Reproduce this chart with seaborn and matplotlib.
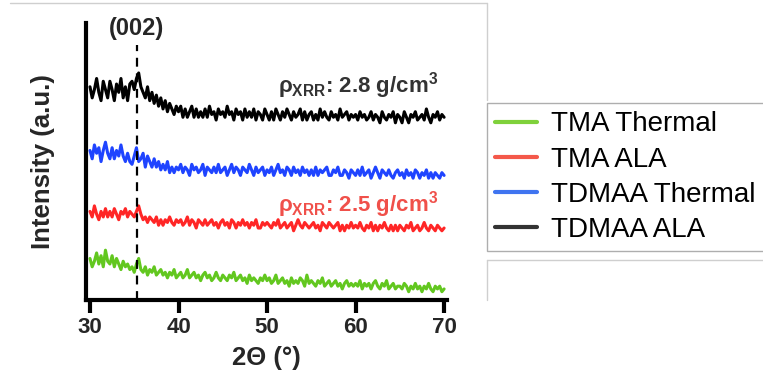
import numpy as np
import pandas as pd
import matplotlib
matplotlib.use("Agg")
import matplotlib.pyplot as plt
from matplotlib.lines import Line2D
import seaborn as sns

# 2-theta grid, 0.25 degree steps from 30 to 70
two_theta = np.arange(30.0, 70.001, 0.25)

# Offset intensities (a.u.) for each film, one row per 5 degrees
tdmaa_ala = [
    77, 73, 76, 80, 75, 72, 79, 76, 73, 79, 76, 72, 78, 75, 80, 73, 77, 72, 78, 79,
    76, 80, 82, 77, 75, 73, 77, 72, 75, 71, 74, 70, 73, 69, 72, 68, 71, 69, 67, 70,
    68, 70, 66, 69, 66, 68, 70, 66, 69, 66, 68, 66, 69, 66, 70, 67, 68, 65, 69, 67,
    68, 66, 70, 67, 68, 65, 69, 67, 68, 65, 69, 66, 68, 66, 69, 65, 68, 67, 65, 69,
    67, 65, 68, 65, 69, 67, 65, 68, 66, 69, 67, 65, 68, 66, 67, 69, 65, 68, 65, 67,
    68, 65, 67, 65, 69, 66, 68, 66, 65, 68, 66, 67, 65, 69, 66, 67, 68, 65, 67, 66,
    67, 65, 68, 66, 67, 65, 66, 68, 65, 67, 66, 64, 68, 66, 65, 67, 66, 68, 64, 67,
    66, 64, 68, 66, 64, 67, 66, 68, 65, 66, 67, 65, 69, 66, 64, 67, 66, 68, 65, 67,
    66,
]
tdmaa_thermal = [
    54, 51, 56, 53, 55, 50, 54, 57, 53, 51, 55, 51, 54, 52, 56, 52, 50, 53, 50, 49,
    52, 55, 50, 51, 53, 48, 52, 50, 48, 51, 48, 50, 47, 49, 47, 50, 46, 48, 46, 48,
    47, 49, 46, 48, 47, 45, 49, 47, 48, 46, 47, 49, 45, 48, 47, 46, 48, 46, 49, 46,
    47, 48, 45, 47, 49, 46, 48, 47, 45, 48, 47, 46, 49, 47, 45, 48, 46, 47, 48, 45,
    47, 46, 48, 45, 47, 49, 46, 47, 45, 48, 47, 45, 48, 46, 47, 45, 48, 46, 47, 45,
    47, 45, 48, 45, 47, 46, 47, 48, 45, 45, 47, 46, 48, 45, 45, 47, 46, 44, 47, 46,
    45, 47, 45, 48, 45, 46, 47, 44, 46, 48, 46, 44, 47, 46, 45, 47, 45, 44, 46, 47,
    45, 46, 44, 47, 45, 46, 44, 47, 46, 44, 46, 45, 47, 44, 46, 44, 46, 45, 44, 46,
    45,
]
tma_ala = [
    32, 30, 34, 31, 29, 32, 30, 33, 30, 32, 30, 33, 31, 29, 32, 31, 33, 30, 32, 31,
    30, 32, 34, 31, 29, 30, 28, 30, 29, 28, 30, 27, 29, 27, 29, 28, 30, 28, 27, 29,
    28, 29, 27, 28, 30, 27, 29, 28, 26, 29, 28, 27, 29, 27, 28, 29, 27, 28, 26, 28,
    29, 27, 28, 26, 29, 28, 26, 28, 27, 29, 27, 28, 26, 28, 27, 29, 26, 26, 28, 27,
    28, 27, 26, 28, 27, 29, 26, 27, 28, 26, 27, 28, 25, 27, 29, 27, 26, 28, 27, 26,
    27, 28, 26, 27, 25, 28, 27, 26, 28, 27, 26, 27, 28, 25, 27, 25, 27, 26, 28, 26,
    27, 26, 28, 26, 25, 27, 26, 28, 25, 27, 25, 27, 26, 28, 26, 25, 27, 25, 27, 25,
    27, 26, 25, 27, 26, 28, 25, 26, 27, 25, 26, 28, 26, 25, 27, 26, 25, 27, 26, 25,
    26,
]
tma_thermal = [
    15, 12, 14, 17, 13, 16, 12, 18, 14, 13, 16, 12, 15, 13, 11, 14, 12, 13, 11, 12,
    10, 13, 15, 11, 10, 12, 9, 11, 10, 12, 9, 10, 11, 9, 10, 8, 10, 9, 11, 8,
    9, 10, 8, 9, 11, 8, 9, 10, 8, 9, 7, 9, 10, 8, 9, 7, 8, 10, 8, 7,
    9, 8, 7, 9, 8, 10, 7, 8, 9, 7, 8, 6, 9, 7, 8, 7, 6, 8, 7, 9,
    7, 8, 6, 7, 9, 6, 7, 8, 6, 7, 5, 8, 6, 7, 6, 8, 7, 5, 9, 6,
    7, 6, 5, 7, 6, 8, 5, 6, 7, 5, 6, 7, 5, 6, 4, 6, 7, 5, 6, 5,
    6, 5, 7, 4, 6, 5, 6, 4, 6, 7, 5, 4, 6, 5, 7, 4, 5, 6, 4, 5,
    5, 4, 6, 5, 3, 5, 4, 6, 4, 5, 3, 5, 4, 6, 4, 3, 5, 4, 5, 3,
    4,
]

series_names = ["TMA Thermal", "TMA ALA", "TDMAA Thermal", "TDMAA ALA"]
series_values = [tma_thermal, tma_ala, tdmaa_thermal, tdmaa_ala]
series_colors = ["#62c71f", "#ff2626", "#1f44ff", "#000000"]
legend_colors = ["#7fd13b", "#f4584a", "#3f74f0", "#333333"]

peak_position = 35.3
peak_label = "(002)"
density_labels = [r"$\rho_{\mathrm{XRR}}$: 2.8 g/cm$^3$", r"$\rho_{\mathrm{XRR}}$: 2.5 g/cm$^3$"]
xticks = [30, 40, 50, 60, 70]

frames = []
for name, vals in zip(series_names, series_values):
    frames.append(pd.DataFrame({"two_theta": two_theta, "intensity": vals, "film": name}))
df = pd.concat(frames, ignore_index=True)

sns.set_theme(style="ticks")
plt.rcParams["font.family"] = ["Liberation Sans", "DejaVu Sans"]
plt.rcParams["mathtext.fontset"] = "custom"
plt.rcParams["mathtext.rm"] = "Liberation Sans:bold"
plt.rcParams["mathtext.it"] = "Liberation Sans:bold"

fig = plt.figure(figsize=(7.63, 3.79), dpi=100)
ax = fig.add_axes([0.1127, 0.2084, 0.4733, 0.7306])

sns.lineplot(data=df, x="two_theta", y="intensity", hue="film",
             hue_order=series_names, palette=series_colors,
             linewidth=2.2, legend=False, ax=ax, zorder=2)

ax.axvline(peak_position, ymin=0, ymax=0.92, color="black", lw=1.6,
           dashes=(4, 3), zorder=3)
ax.text(peak_position, 98.2, peak_label, ha="center", va="center",
        fontsize=17, fontweight="bold", clip_on=False)

ax.text(69.3, 77.5, density_labels[0], ha="right", va="center",
        fontsize=16, color="#333333", fontweight="bold")
ax.text(69.3, 34.3, density_labels[1], ha="right", va="center",
        fontsize=16, color="#f0504a", fontweight="bold")

ax.set_xlim(29.55, 70.34)
ax.set_ylim(0, 100)
ax.set_xticks(xticks)
ax.set_xticklabels([str(t) for t in xticks], fontsize=16, fontweight="bold")
ax.set_yticks([])
ax.set_xlabel("2Θ (°)", fontsize=18.5, fontweight="bold", labelpad=6)
ax.set_ylabel("Intensity (a.u.)", fontsize=18.5, fontweight="bold", labelpad=22)
ax.tick_params(axis="x", width=3, length=9, color="black", pad=3)
for side in ["top", "right"]:
    ax.spines[side].set_visible(False)
for side in ["left", "bottom"]:
    ax.spines[side].set_linewidth(3)
    ax.spines[side].set_color("black")

handles = [Line2D([0], [0], color=c, lw=3) for c in legend_colors]
leg = fig.legend(handles, series_names, loc="upper left",
                 bbox_to_anchor=(0.638, 0.728), fontsize=20,
                 frameon=True, fancybox=False, edgecolor="#9a9a9a",
                 handlelength=1.5, handletextpad=0.5, labelspacing=0.33,
                 borderpad=0.3, borderaxespad=0)
leg.get_frame().set_linewidth(1.0)
for t in leg.get_texts():
    t.set_color("black")

# thin panel borders
grey = "#cfcfcf"
fig.add_artist(Line2D([10 / 763, 487 / 763], [1 - 3 / 379, 1 - 3 / 379], color=grey, lw=1))
fig.add_artist(Line2D([487 / 763, 487 / 763], [1 - 3 / 379, 1 - 100 / 379], color=grey, lw=1))
fig.add_artist(Line2D([487 / 763, 1.0], [1 - 260 / 379, 1 - 260 / 379], color=grey, lw=1))
fig.add_artist(Line2D([487 / 763, 487 / 763], [1 - 260 / 379, 1 - 300 / 379], color=grey, lw=1))

fig.savefig("out.png", dpi=100)
